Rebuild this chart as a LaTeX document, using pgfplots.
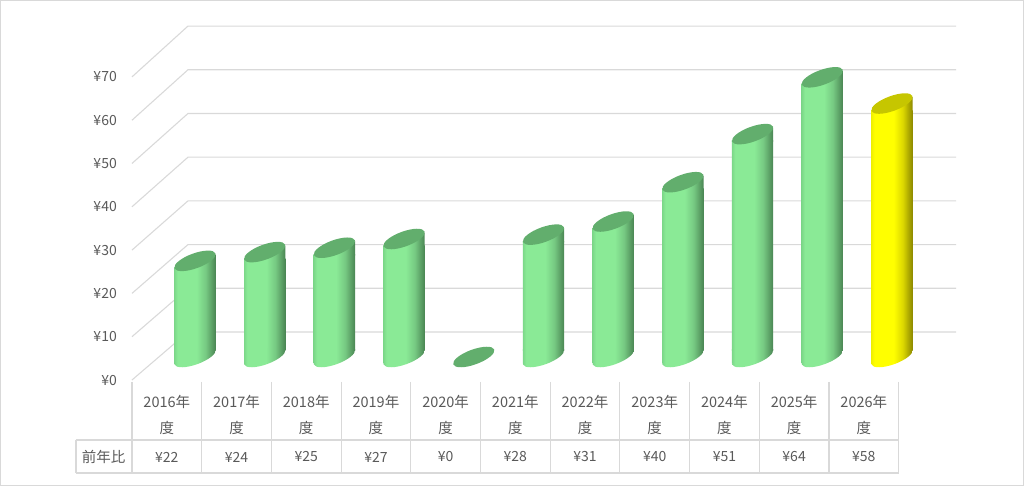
\documentclass[border=0pt]{standalone}
\usepackage{pgfplots}
\pgfplotsset{compat=1.18}
\usepackage{pgfplotstable}
\usepackage{fontspec}
\setmainfont{Noto Sans CJK JP}
\definecolor{gL}{HTML}{7CD889}
\definecolor{gA}{HTML}{8AEA96}
\definecolor{gB}{HTML}{76C982}
\definecolor{gD}{HTML}{4A8553}
\definecolor{gT}{HTML}{62AE6D}
\definecolor{yL}{HTML}{F0F000}
\definecolor{yA}{HTML}{FFFF00}
\definecolor{yB}{HTML}{DCD800}
\definecolor{yD}{HTML}{8C8800}
\definecolor{yT}{HTML}{C6C600}
\definecolor{gridc}{HTML}{D9D9D9}
\definecolor{txt}{HTML}{595959}
\pgfdeclarehorizontalshading{cylG}{100bp}{color(0bp)=(gL); color(25bp)=(gL); color(29bp)=(gA); color(52bp)=(gA); color(63bp)=(gB); color(75bp)=(gD); color(100bp)=(gD)}
\pgfdeclarehorizontalshading{cylY}{100bp}{color(0bp)=(yL); color(25bp)=(yL); color(29bp)=(yA); color(52bp)=(yA); color(63bp)=(yB); color(75bp)=(yD); color(100bp)=(yD)}
% tilted ellipse (21.8pt x 7.5pt, rotated 20 degrees)
\newcommand\tiltell{\pgfpathellipse{\pgfpointorigin}{\pgfpoint{20.485pt}{7.456pt}}{\pgfpoint{-2.565pt}{7.048pt}}}
\newcommand\capmark[1]{\begin{pgfscope}\tiltell\pgfsetfillcolor{#1}\pgfusepath{fill}\end{pgfscope}}
\newcommand\toptri[1]{\begin{pgfscope}\pgfpathmoveto{\pgfpoint{-20.64pt}{-7.8pt}}\pgfpathlineto{\pgfpoint{20.64pt}{-7.8pt}}\pgfpathlineto{\pgfpoint{20.64pt}{6.52pt}}\pgfpathlineto{\pgfpoint{-20.64pt}{-6.52pt}}\pgfpathclose\pgfshadepath{#1}{0}\pgfusepath{}\end{pgfscope}}
\newcommand\bottri[1]{\begin{pgfscope}\pgfpathmoveto{\pgfpoint{-20.64pt}{7.8pt}}\pgfpathlineto{\pgfpoint{20.64pt}{7.8pt}}\pgfpathlineto{\pgfpoint{20.64pt}{6.52pt}}\pgfpathlineto{\pgfpoint{-20.64pt}{-6.52pt}}\pgfpathclose\pgfshadepath{#1}{0}\pgfusepath{}\end{pgfscope}}
\newcommand\botell[1]{\begin{pgfscope}\tiltell\pgfusepath{clip}\pgfpathrectanglecorners{\pgfpoint{-20.64pt}{-11pt}}{\pgfpoint{20.64pt}{11pt}}\pgfshadepath{#1}{0}\pgfusepath{}\end{pgfscope}}
\pgfdeclareplotmark{gcap}{\capmark{gT}}
\pgfdeclareplotmark{gtop}{\toptri{cylG}\capmark{gT}}
\pgfdeclareplotmark{gbot}{\bottri{cylG}\botell{cylG}}
\pgfdeclareplotmark{ytop}{\toptri{cylY}\capmark{yT}}
\pgfdeclareplotmark{ybot}{\bottri{cylY}\botell{cylY}}

\pgfplotstableread{
x v
0 22
1 24
2 25
3 27
4 0
5 28
6 31
7 40
8 51
9 64
10 58
}\alldata
\pgfplotstableread{
x v
0 22
1 24
2 25
3 27
5 28
6 31
7 40
8 51
9 64
}\greendata
\pgfplotstableread{
x v
4 0
}\zerodata
\pgfplotstableread{
x v
10 58
}\yellowdata

\begin{document}
\begin{tikzpicture}
\path[use as bounding box] (0,0) rectangle (1024pt,486pt);
\draw[gridc, line width=1pt] (0.5pt,0.5pt) rectangle (1023.5pt,485.5pt);
\begin{axis}[
  x=69.7pt, y=4.37pt,
  xmin=-1.75, xmax=11, ymin=-29, ymax=75,
  anchor=south west, at={(73.0pt,8.79pt)},
  clip=false,
  /pgf/number format/assume math mode=true,
  axis line style={draw=none},
  major tick style={draw=none},
  ytick={-6.76,3.15,13.06,22.97,32.88,42.79,52.69,62.60},
  yticklabels={¥0,¥10,¥20,¥30,¥40,¥50,¥60,¥70},
  yticklabel style={anchor=east, inner sep=0pt, xshift=44pt, font=\fontsize{14}{16}\selectfont, text=txt},
  xtick={-0.404,0.596,1.596,2.596,3.596,4.596,5.596,6.596,7.596,8.596,9.596},
  xticklabels={{2016年\\度},{2017年\\度},{2018年\\度},{2019年\\度},{2020年\\度},{2021年\\度},{2022年\\度},{2023年\\度},{2024年\\度},{2025年\\度},{2026年\\度}},
  xticklabel style={align=center, anchor=center, inner sep=0pt, yshift=62.5pt, font=\fontsize{14.5}{26}\selectfont, text=txt},
]
% gridlines: front-left -> back-left -> back-right
\addplot[gridc, line width=1.1pt, mark=none] coordinates {(-0.904,-6.76) (-0.1006,4.23) (10.92,4.23)};
\addplot[gridc, line width=1.1pt, mark=none] coordinates {(-0.904,3.15) (-0.1006,14.23) (10.92,14.23)};
\addplot[gridc, line width=1.1pt, mark=none] coordinates {(-0.904,13.06) (-0.1006,24.23) (10.92,24.23)};
\addplot[gridc, line width=1.1pt, mark=none] coordinates {(-0.904,22.97) (-0.1006,34.23) (10.92,34.23)};
\addplot[gridc, line width=1.1pt, mark=none] coordinates {(-0.904,32.88) (-0.1006,44.23) (10.92,44.23)};
\addplot[gridc, line width=1.1pt, mark=none] coordinates {(-0.904,42.79) (-0.1006,54.23) (10.92,54.23)};
\addplot[gridc, line width=1.1pt, mark=none] coordinates {(-0.904,52.69) (-0.1006,64.23) (10.92,64.23)};
\addplot[gridc, line width=1.1pt, mark=none] coordinates {(-0.904,62.60) (-0.1006,74.23) (10.92,74.23)};
% data table lines
\addplot[gridc, line width=1.1pt, mark=none, unbounded coords=jump] coordinates {
 (-0.904,-7.21) (-0.904,-28.04) (nan,nan)
 (0.096,-7.21) (0.096,-28.04) (nan,nan)
 (1.096,-7.21) (1.096,-28.04) (nan,nan)
 (2.096,-7.21) (2.096,-28.04) (nan,nan)
 (3.096,-7.21) (3.096,-28.04) (nan,nan)
 (4.096,-7.21) (4.096,-28.04) (nan,nan)
 (5.096,-7.21) (5.096,-28.04) (nan,nan)
 (6.096,-7.21) (6.096,-28.04) (nan,nan)
 (7.096,-7.21) (7.096,-28.04) (nan,nan)
 (8.096,-7.21) (8.096,-28.04) (nan,nan)
 (9.096,-7.21) (9.096,-28.04) (nan,nan)
 (10.096,-7.21) (10.096,-28.04) (nan,nan)
 (-1.707,-20.48) (10.096,-20.48) (nan,nan)
 (-1.707,-28.04) (10.096,-28.04) (nan,nan)
 (-1.707,-20.48) (-1.707,-28.04)
};
% green cylinders
\pgfplotsinvokeforeach{0,1,2,3,5,6,7,8,9}{
  \addplot[ybar, bar width=41.28pt, bar shift=0pt, draw=none, shade, shading=cylG, restrict x to domain=#1:#1]
    table[x=x, y expr=\thisrow{v}-2.984] {\greendata};
}
\addplot[only marks, mark=gbot] table[x=x, y expr=-1.492] {\greendata};
\addplot[only marks, mark=gtop] table[x=x, y expr=\thisrow{v}-1.492] {\greendata};
\addplot[only marks, mark=gcap] table[x=x, y expr=\thisrow{v}-1.492] {\zerodata};
% yellow cylinder
\addplot[ybar, bar width=41.28pt, bar shift=0pt, draw=none, shade, shading=cylY] table[x=x, y expr=\thisrow{v}-2.984] {\yellowdata};
\addplot[only marks, mark=ybot] table[x=x, y expr=-1.492] {\yellowdata};
\addplot[only marks, mark=ytop] table[x=x, y expr=\thisrow{v}-1.492] {\yellowdata};
% value row of the data table
\addplot[draw=none, mark=none, point meta=explicit,
  nodes near coords={¥\pgfmathprintnumber{\pgfplotspointmeta}},
  every node near coord/.append style={anchor=center, inner sep=0pt, font=\fontsize{14}{16}\selectfont, text=txt}]
  table[x expr=\thisrow{x}-0.404, y expr=-24.37, meta=v] {\alldata};
\node[anchor=center, inner sep=0pt, font=\fontsize{14.5}{16}\selectfont, text=txt] at (axis cs:-1.31,-24.37) {前年比};
\end{axis}
\end{tikzpicture}
\end{document}
